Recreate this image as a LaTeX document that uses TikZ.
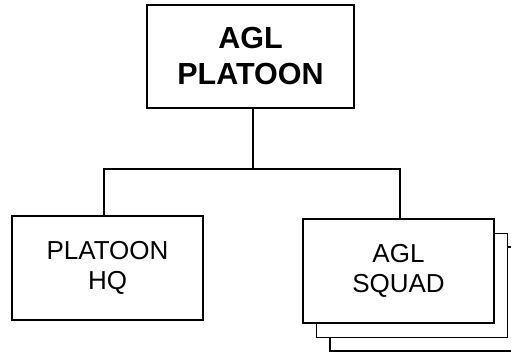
\documentclass[tikz,border=0pt]{standalone}
\usepackage{fontspec}
\setmainfont{Liberation Sans}
\begin{document}
\begin{tikzpicture}[x=1pt,y=-1pt,
  box/.style={draw=black,line width=1.4pt,fill=white,rectangle,inner sep=0pt,align=center},
  bigtxt/.style={font=\fontsize{30.5}{36}\selectfont\bfseries},
  smalltxt/.style={font=\fontsize{26}{30}\selectfont},
  conn/.style={draw=black,line width=1.4pt}]
\useasboundingbox (0,0) rectangle (511,352);
\node[box,bigtxt,minimum width=207pt,minimum height=103pt] (top) at (250.5,56.5) {AGL\\PLATOON};
\node[box,smalltxt,minimum width=191pt,minimum height=104pt] (hq) at (107.5,268) {PLATOON\\HQ};
\node[box,minimum width=191pt,minimum height=104pt] (sh2) at (425.5,299) {};
\node[box,minimum width=191pt,minimum height=104pt] (sh1) at (412,285.5) {};
\node[box,smalltxt,minimum width=191pt,minimum height=104pt] (squad) at (398.5,271) {AGL\\SQUAD};
\coordinate (busL) at (104,169);
\coordinate (busR) at (400,169);
\coordinate (busM) at (253,169);
\draw[conn] (top.south -| busM) -- (busM);
\draw[conn] (hq.north -| busL) -- (busL) -- (busR) -- (squad.north -| busR);
\end{tikzpicture}
\end{document}
